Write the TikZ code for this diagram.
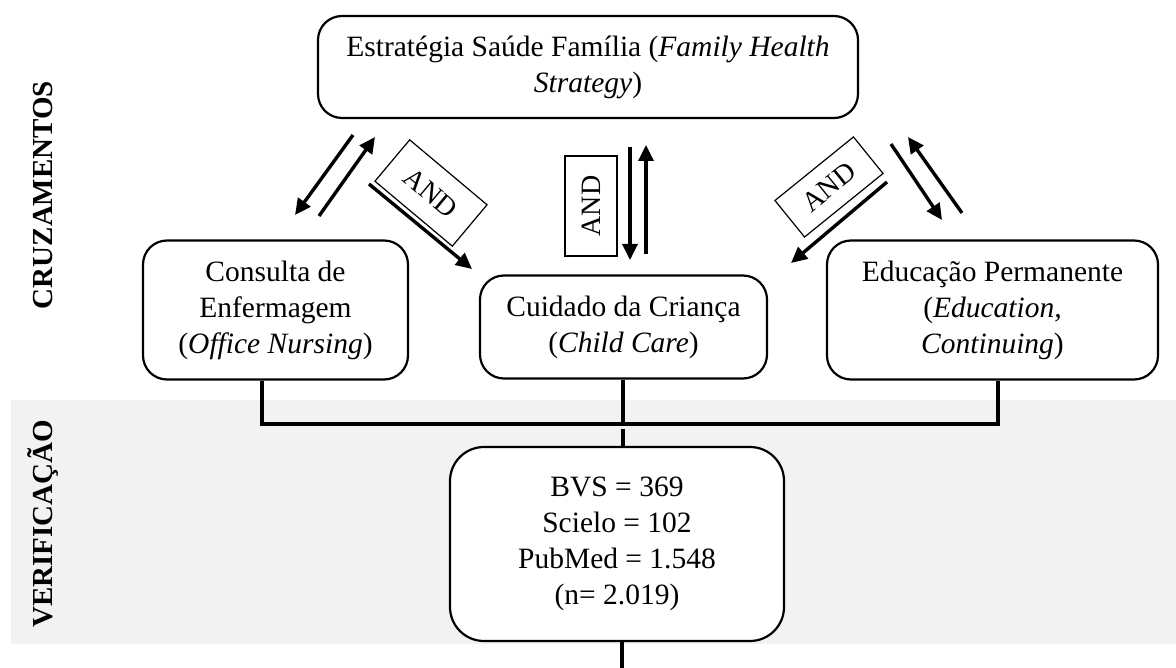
\documentclass[tikz,border=0pt]{standalone}
\usepackage{fontspec}
\setmainfont{Liberation Serif}
\usetikzlibrary{arrows.meta,calc}
\definecolor{bandgray}{HTML}{F2F2F2}
\begin{document}
\begin{tikzpicture}[x=1pt,y=-1pt,
  box/.style={draw,line width=2.2pt,rounded corners=24pt,align=center,inner sep=0pt,fill=white,font=\fontsize{29.5}{36}\selectfont},
  andbox/.style={draw,line width=1.2pt,inner sep=0pt,font=\fontsize{28}{30}\selectfont},
  link/.style={line width=3.4pt},
  arr/.style={line width=3.4pt,-{Triangle[length=16pt,width=15pt]}},
  lab/.style={font=\bfseries\fontsize{29}{30}\selectfont,rotate=90}]
\useasboundingbox (0,0) rectangle (1176,668);
\fill[bandgray] (11,400) rectangle (1176,644);

\node[box,minimum width=540pt,minimum height=102pt] (esf) at (588,67) {Estratégia Saúde Família (\textit{Family Health}\\\textit{Strategy})};
\node[box,minimum width=265pt,minimum height=139pt] (cons) at (275.5,310) {Consulta de\\Enfermagem\\(\textit{Office Nursing})};
\node[box,minimum width=287pt,minimum height=103pt] (cuid) at (623.5,327) {Cuidado da Criança\\(\textit{Child Care})};
\node[box,minimum width=331pt,minimum height=139pt] (edu) at (992.5,310) {Educação Permanente\\(\textit{Education,}\\\textit{Continuing})};
\node[box,rounded corners=34pt,minimum width=334pt,minimum height=194pt] (bvs) at (617,544) {BVS = 369\\Scielo = 102\\PubMed = 1.548\\(n= 2.019)};

\node[lab] (cruz) at (43,195) {CRUZAMENTOS};
\node[lab] (verif) at (43,524) {VERIFICAÇÃO};

\coordinate (j1) at (262,424);
\coordinate (j2) at (623,424);
\coordinate (j3) at (998,424);
\coordinate (j4) at (623,429);
\coordinate (bend) at (622,668);
\draw[link] (cons.south -| j1) -- (j1) -- (j3) -- (edu.south -| j3);
\draw[link] (cuid.south -| j2) -- (j2);
\draw[link] (j4) -- (bvs.north -| j4);
\draw[link] (bvs.south -| bend) -- (bend);

\node[andbox,rotate=-40,minimum width=101pt,minimum height=54pt] (and1) at (431,193) {AND};
\node[andbox,rotate=90,minimum width=100pt,minimum height=52pt] (and2) at (591,206) {AND};
\node[andbox,rotate=39,minimum width=101pt,minimum height=47pt] (and3) at (829,187) {AND};

\coordinate (p1) at (353,135);
\coordinate (p2) at (295,215);
\coordinate (p3) at (319,216);
\coordinate (p4) at (375,137);
\coordinate (p5) at (369,184);
\coordinate (p6) at (472,269);
\coordinate (p7) at (630,147);
\coordinate (p8) at (630,260);
\coordinate (p9) at (646,254);
\coordinate (p10) at (646,145);
\coordinate (p11) at (891,144);
\coordinate (p12) at (942,220);
\coordinate (p13) at (962,213);
\coordinate (p14) at (908,137);
\coordinate (p15) at (887,182);
\coordinate (p16) at (791,263);
\draw[arr] (p1) -- (p2);
\draw[arr] (p3) -- (p4);
\draw[arr] (p5) -- (p6);
\draw[arr] (p7) -- (p8);
\draw[arr] (p9) -- (p10);
\draw[arr] (p11) -- (p12);
\draw[arr] (p13) -- (p14);
\draw[arr] (p15) -- (p16);
\end{tikzpicture}
\end{document}
